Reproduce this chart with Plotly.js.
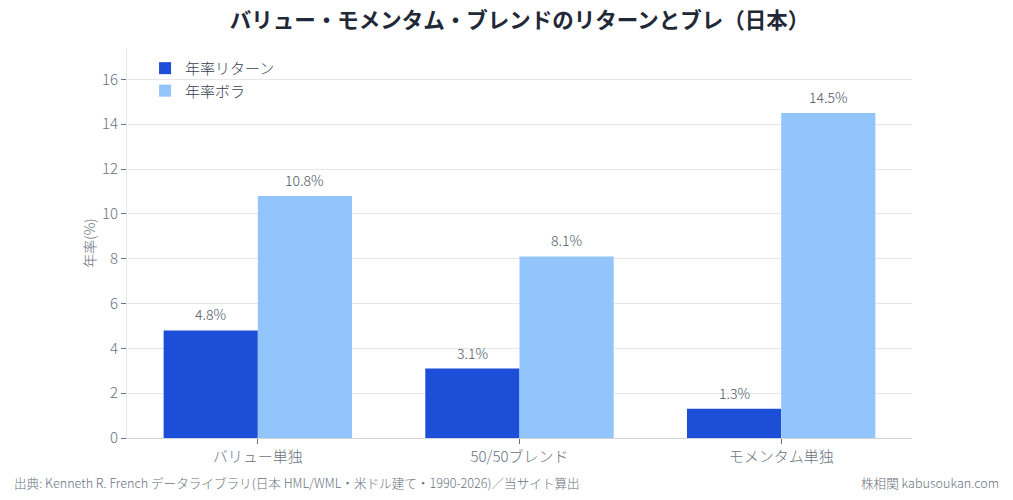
<!DOCTYPE html>
<html>
<head>
<meta charset="utf-8">
<script src="https://cdn.plot.ly/plotly-3.0.1.min.js"></script>
<style>
  html, body { margin: 0; padding: 0; background: #ffffff; }
  #chart { width: 1013px; height: 500px; }
</style>
</head>
<body>
<div id="chart"></div>
<script>
// Strategy names and annualised figures (Japan, USD, 1990-2026)
const categories = ["バリュー単独", "50/50ブレンド", "モメンタム単独"];
const annualReturn = [4.8, 3.1, 1.3];
const annualVol = [10.8, 8.1, 14.5];
const seriesNames = ["年率リターン", "年率ボラ"];

const FONT = '"Noto Sans CJK JP", "Noto Sans", sans-serif';

const fmt = v => v.toFixed(1) + "%";

const traces = [
  {
    type: "bar",
    name: seriesNames[0],
    x: categories,
    y: annualReturn,
    marker: { color: "#1d4ed8" },
    hoverinfo: "x+y"
  },
  {
    type: "bar",
    name: seriesNames[1],
    x: categories,
    y: annualVol,
    marker: { color: "#93c5fd" },
    hoverinfo: "x+y"
  }
];

// Value labels sitting just above each bar (half a bar width left/right of the category centre)
const halfBar = 47;
const valueLabels = [];
[annualReturn, annualVol].forEach((series, si) => {
  series.forEach((v, i) => {
    valueLabels.push({
      x: categories[i], y: v,
      xref: "x", yref: "y",
      text: fmt(v),
      showarrow: false,
      xanchor: "center", yanchor: "bottom",
      xshift: si === 0 ? -halfBar : halfBar,
      yshift: 4,
      font: { size: 14, color: "#4b5563", family: FONT, weight: 300 }
    });
  });
});

const layout = {
  width: 1013,
  height: 500,
  margin: { l: 127, r: 101, t: 48, b: 62 },
  paper_bgcolor: "#ffffff",
  plot_bgcolor: "#ffffff",
  font: { family: FONT, color: "#6b7280", size: 14, weight: 300 },
  title: {
    text: "<b>バリュー・モメンタム・ブレンドのリターンとブレ（日本）</b>",
    font: { family: FONT, size: 21.5, color: "#1f2937", weight: 700 },
    xref: "paper",
    x: 0.5,
    xanchor: "center",
    y: 0.96,
    yanchor: "middle"
  },
  barmode: "group",
  bargap: 0.28,
  bargroupgap: 0,
  xaxis: {
    showline: true,
    linecolor: "#d1d5db",
    linewidth: 1,
    ticks: "outside",
    ticklen: 5,
    tickcolor: "#6b7280",
    tickfont: { size: 15, color: "#6b7280", weight: 300 },
    showgrid: false
  },
  yaxis: {
    range: [0, 17.4],
    dtick: 2,
    showline: true,
    linecolor: "#e5e7eb",
    linewidth: 1,
    ticks: "outside",
    ticklen: 5,
    tickcolor: "#6b7280",
    tickfont: { size: 15, color: "#6b7280", weight: 300 },
    gridcolor: "#e5e7eb",
    zeroline: false,
    title: { text: "年率(%)", font: { size: 14, color: "#6b7280", weight: 300 }, standoff: 3 }
  },
  legend: {
    x: 0.023,
    y: 0.99,
    xanchor: "left",
    yanchor: "top",
    bgcolor: "rgba(255,255,255,0)",
    font: { size: 15, color: "#374151", weight: 300 },
    traceorder: "normal"
  },
  showlegend: true,
  annotations: valueLabels.concat([
    {
      text: "出典: Kenneth R. French データライブラリ(日本 HML/WML・米ドル建て・1990-2026)／当サイト算出",
      xref: "paper", yref: "paper",
      x: -0.147, y: -0.115,
      xanchor: "left", yanchor: "middle",
      showarrow: false,
      font: { size: 12.6, color: "#6b7280", weight: 300 }
    },
    {
      text: "株相関 kabusoukan.com",
      xref: "paper", yref: "paper",
      x: 1.113, y: -0.115,
      xanchor: "right", yanchor: "middle",
      showarrow: false,
      font: { size: 12.6, color: "#6b7280", weight: 300 }
    }
  ])
};

Plotly.newPlot("chart", traces, layout, { displayModeBar: false, responsive: false });
</script>
</body>
</html>
